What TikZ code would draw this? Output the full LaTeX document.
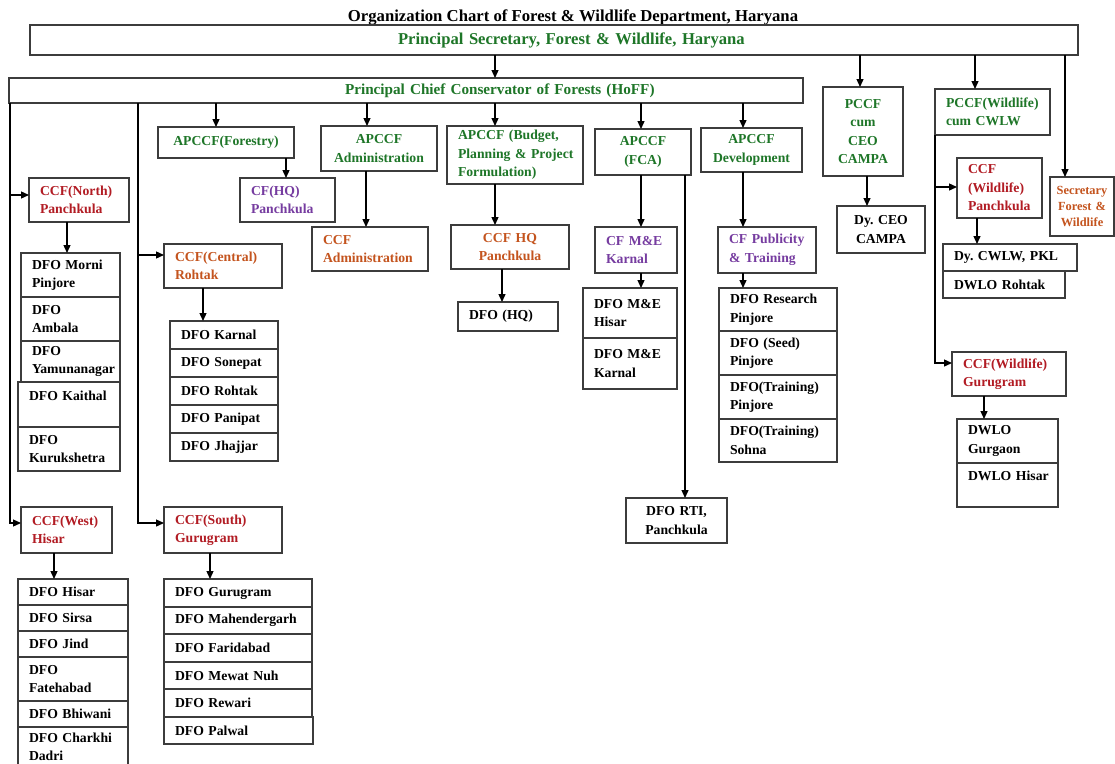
\documentclass[tikz,border=0pt]{standalone}
\usepackage{fontspec}
\setmainfont{Liberation Serif}
\usetikzlibrary{arrows.meta}
\definecolor{gr}{RGB}{30,118,40}
\definecolor{rd}{RGB}{178,28,36}
\definecolor{org}{RGB}{196,84,30}
\definecolor{pur}{RGB}{118,60,160}
\definecolor{edge}{RGB}{60,60,60}
\newcommand{\nb}[1]{\mbox{#1}}
\def\obpad{11}
\newcommand{\obox}[7]{%
  \pgfmathsetmacro{\obw}{#5-#3}%
  \pgfmathsetmacro{\obh}{#6-#4}%
  \pgfmathsetmacro{\obt}{#5-#3-2*\obpad}%
  \node[box,#1,anchor=north west,inner xsep=\obpad pt,minimum width=\obw pt,minimum height=\obh pt,text width=\obt pt] (#2) at (#3,#4) {#7};}
\tikzset{
  box/.style={draw=edge, line width=1.1pt, inner ysep=0pt, outer sep=0pt,
    font=\fontsize{13.7}{18.5}\selectfont\bfseries\frenchspacing, align=left, text=black},
  cen/.style={align=center},
  arr/.style={line width=1.3pt, -{Triangle[length=8pt,width=7pt]}},
  ttl/.style={font=\fontsize{16.7}{20}\selectfont\bfseries\frenchspacing, inner sep=0pt}
}
\begin{document}
\begin{tikzpicture}[x=1pt,y=-1pt]
\fill[white] (0,0) rectangle (1115,763);
\useasboundingbox (0,0) rectangle (1115,763);

\node[ttl, anchor=base] (title) at (573,21) {Organization Chart of Forest \& Wildlife Department, Haryana};

% top level
{\def\obpad{0}
\obox{text=gr, font=\fontsize{16.6}{20}\selectfont\bfseries\frenchspacing}{ps}{30}{25}{1078}{55}{\hspace*{368pt}Principal Secretary, Forest \& Wildlife, Haryana}
\obox{text=gr, font=\fontsize{15.2}{19}\selectfont\bfseries\frenchspacing}{pccf}{9}{78}{803}{103}{\hspace*{336pt}Principal Chief Conservator of Forests (HoFF)}
}
\obox{text=gr,cen}{campa}{823}{87}{903}{176}{PCCF\\cum\\CEO\\CAMPA}
\obox{cen}{dyceo}{837}{206}{925}{253}{Dy. CEO\\CAMPA}
\obox{text=gr}{pccfwl}{935}{89}{1050}{135}{PCCF(Wildlife)\\cum CWLW}
{\def\obpad{3}
\obox{text=org,cen,font=\fontsize{12.4}{16}\selectfont\bfseries\frenchspacing}{secy}{1050}{177}{1114}{236}{Secretary\\Forest \&\\Wildlife}
}
\obox{text=rd}{wlp}{957}{158}{1042}{218}{CCF\\(Wildlife)\\Panchkula}
\obox{}{dycwlw}{943}{244}{1077}{271}{\nb{Dy. CWLW, PKL}}
\obox{}{dwlor}{943}{271}{1065}{298}{DWLO Rohtak}
\obox{text=rd}{wlg}{952}{352}{1066}{396}{CCF(Wildlife)\\Gurugram}
\obox{}{dwlog}{957}{419}{1058}{463}{DWLO\\Gurgaon}
\obox{}{dwloh}{957}{463}{1058}{507}{\nb{DWLO Hisar}\\\mbox{}}

% APCCF row
\obox{text=gr,cen}{apf}{158}{127}{294}{158}{APCCF(Forestry)}
\obox{text=pur}{cfhq}{240}{178}{335}{222}{CF(HQ)\\Panchkula}
\obox{text=gr,cen}{apadm}{321}{126}{437}{171}{APCCF\\Administration}
\obox{text=org}{ccfadm}{312}{227}{428}{271}{CCF\\Administration}
\obox{text=gr}{apbud}{447}{126}{583}{184}{APCCF (Budget,\\\nb{Planning \& Project}\\Formulation)}
\obox{text=org,cen}{ccfhq}{451}{225}{569}{269}{CCF HQ\\Panchkula}
\obox{}{dfohq}{458}{302}{558}{331}{DFO (HQ)}
\obox{text=gr,cen}{apfca}{595}{129}{691}{175}{APCCF\\(FCA)}
\obox{text=pur}{cfme}{595}{227}{677}{273}{CF M\&E\\Karnal}
\obox{}{dfome1}{583}{288}{677}{338}{DFO M\&E\\Hisar}
\obox{}{dfome2}{583}{338}{677}{389}{DFO M\&E\\Karnal}
\obox{cen}{dforti}{626}{498}{727}{543}{DFO RTI,\\Panchkula}
\obox{text=gr,cen}{apdev}{701}{128}{802}{172}{APCCF\\Development}
\obox{text=pur}{cfpub}{718}{227}{816}{273}{\nb{CF Publicity}\\\& Training}
\obox{}{dfores}{719}{288}{837}{331}{DFO Research\\Pinjore}
\obox{}{dfoseed}{719}{331}{837}{375}{DFO (Seed)\\Pinjore}
\obox{}{dfotrp}{719}{375}{837}{419}{DFO(Training)\\Pinjore}
\obox{}{dfotrs}{719}{419}{837}{462}{DFO(Training)\\Sohna}

% left side
\obox{text=rd}{ccfn}{29}{178}{129}{222}{CCF(North)\\Panchkula}
\obox{}{dn1}{21}{253}{120}{297}{DFO Morni\\Pinjore}
\obox{}{dn2}{21}{297}{120}{341}{DFO\\Ambala}
\obox{}{dn3}{21}{341}{120}{382}{DFO\\Yamunanagar}
\obox{}{dn4}{18}{382}{120}{427}{\nb{DFO Kaithal}\\\mbox{}}
\obox{}{dn5}{18}{427}{120}{471}{DFO\\Kurukshetra}

\obox{text=org}{ccfc}{164}{244}{282}{288}{CCF(Central)\\Rohtak}
\obox{}{dc1}{170}{321}{278}{349}{DFO Karnal}
\obox{}{dc2}{170}{349}{278}{377}{DFO Sonepat}
\obox{}{dc3}{170}{377}{278}{405}{DFO Rohtak}
\obox{}{dc4}{170}{405}{278}{433}{DFO Panipat}
\obox{}{dc5}{170}{433}{278}{461}{DFO Jhajjar}

\obox{text=rd}{ccfw}{21}{507}{112}{553}{CCF(West)\\Hisar}
\obox{}{dw1}{18}{579}{128}{605}{DFO Hisar}
\obox{}{dw2}{18}{605}{128}{631}{DFO Sirsa}
\obox{}{dw3}{18}{631}{128}{657}{DFO Jind}
\obox{}{dw4}{18}{657}{128}{701}{DFO\\Fatehabad}
\obox{}{dw5}{18}{701}{128}{727}{DFO Bhiwani}
\obox{}{dw6}{18}{727}{128}{767}{\nb{DFO Charkhi}\\Dadri}

\obox{text=rd}{ccfs}{164}{507}{282}{553}{CCF(South)\\Gurugram}
\obox{}{ds1}{164}{579}{312}{607}{DFO Gurugram}
\obox{}{ds2}{164}{607}{312}{634}{\nb{DFO Mahendergarh}}
\obox{}{ds3}{164}{634}{312}{662}{DFO Faridabad}
\obox{}{ds4}{164}{662}{312}{689}{DFO Mewat Nuh}
\obox{}{ds5}{164}{689}{312}{717}{DFO Rewari}
\obox{}{ds6}{164}{717}{313}{744}{DFO Palwal}

% x positions of connectors
\foreach \k in {10,54,67,138,203,210,216,286,366,367,495,502,641,685,743,860,867,975,977,984,1065}
  {\coordinate (k\k) at (\k,0);}

% connectors
\draw[arr] (ps.south -| k495) -- (pccf.north -| k495);
\draw[arr] (ps.south -| k860) -- (campa.north -| k860);
\draw[arr] (ps.south -| k975) -- (pccfwl.north -| k975);
\draw[arr] (ps.south -| k1065) -- (secy.north -| k1065);
\draw[arr] (pccf.south -| k216) -- (apf.north -| k216);
\draw[arr] (pccf.south -| k367) -- (apadm.north -| k367);
\draw[arr] (pccf.south -| k495) -- (apbud.north -| k495);
\draw[arr] (pccf.south -| k641) -- (apfca.north -| k641);
\draw[arr] (pccf.south -| k743) -- (apdev.north -| k743);
\draw[arr] (pccf.south -| k10) |- ([yshift=5pt]ccfn.west);
\draw[arr] (pccf.south -| k10) |- ([yshift=7pt]ccfw.west);
\draw[arr] (pccf.south -| k138) |- ([yshift=11pt]ccfc.west);
\draw[arr] (pccf.south -| k138) |- ([yshift=7pt]ccfs.west);
\draw[arr] (apf.south -| k286) -- (cfhq.north -| k286);
\draw[arr] (apadm.south -| k366) -- (ccfadm.north -| k366);
\draw[arr] (apbud.south -| k495) -- (ccfhq.north -| k495);
\draw[arr] (ccfhq.south -| k502) -- (dfohq.north -| k502);
\draw[arr] (apfca.south -| k641) -- (cfme.north -| k641);
\draw[arr] (cfme.south -| k641) -- (dfome1.north -| k641);
\draw[arr] (apfca.south -| k685) -- (dforti.north -| k685);
\draw[arr] (apdev.south -| k743) -- (cfpub.north -| k743);
\draw[arr] (cfpub.south -| k743) -- (dfores.north -| k743);
\draw[arr] (campa.south -| k867) -- (dyceo.north -| k867);
\draw[arr] (pccfwl.south west) |- ([yshift=1pt]wlp.west);
\draw[arr] (pccfwl.south west) |- ([yshift=11pt]wlg.west);
\draw[arr] (wlp.south -| k977) -- (dycwlw.north -| k977);
\draw[arr] (wlg.south -| k984) -- (dwlog.north -| k984);
\draw[arr] (ccfn.south -| k67) -- (dn1.north -| k67);
\draw[arr] (ccfc.south -| k203) -- (dc1.north -| k203);
\draw[arr] (ccfw.south -| k54) -- (dw1.north -| k54);
\draw[arr] (ccfs.south -| k210) -- (ds1.north -| k210);
\end{tikzpicture}
\end{document}
